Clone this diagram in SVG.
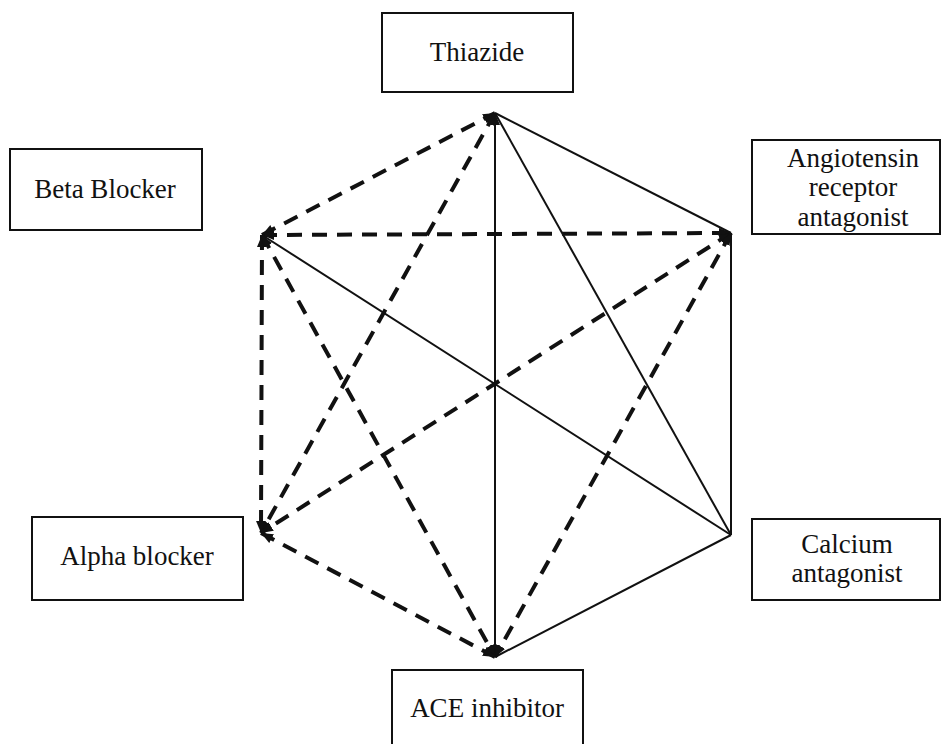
<svg xmlns="http://www.w3.org/2000/svg" width="942" height="744" viewBox="0 0 942 744">
<defs>
<style>
.box{fill:#fff;stroke:#111;stroke-width:2}
.lbl{font-family:'Liberation Serif','Times New Roman','DejaVu Serif',serif;font-size:27px;fill:#111;text-anchor:middle}
.solid{stroke:#111;stroke-width:2;fill:none}
.dash{stroke:#111;stroke-width:4;stroke-dasharray:15 10;fill:none}
</style>
<marker id="ah" viewBox="0 0 12 10" refX="12" refY="5" markerWidth="12" markerHeight="10" markerUnits="userSpaceOnUse" orient="auto-start-reverse">
<path d="M0,0 L12,5 L0,10 z" fill="#111"/>
</marker>
</defs>
<rect width="942" height="744" fill="#fff"/>
<g id="connectors">
<line class="solid" x1="495" y1="113" x2="731" y2="233"/>
<line class="solid" x1="495" y1="113" x2="731" y2="535"/>
<line class="solid" x1="495" y1="113" x2="495" y2="657" marker-start="url(#ah)" marker-end="url(#ah)"/>
<line class="solid" x1="262" y1="235" x2="731" y2="535"/>
<line class="solid" x1="731" y1="233" x2="731" y2="535"/>
<line class="solid" x1="731" y1="535" x2="495" y2="657"/>
<line class="dash" x1="262" y1="235" x2="495" y2="113" marker-start="url(#ah)" marker-end="url(#ah)"/>
<line class="dash" x1="495" y1="113" x2="261" y2="533" marker-start="url(#ah)" marker-end="url(#ah)"/>
<line class="dash" x1="262" y1="235" x2="731" y2="233" marker-start="url(#ah)" marker-end="url(#ah)"/>
<line class="dash" x1="262" y1="235" x2="261" y2="533" marker-start="url(#ah)" marker-end="url(#ah)"/>
<line class="dash" x1="262" y1="235" x2="495" y2="657" marker-start="url(#ah)" marker-end="url(#ah)"/>
<line class="dash" x1="731" y1="233" x2="261" y2="533" marker-start="url(#ah)" marker-end="url(#ah)"/>
<line class="dash" x1="731" y1="233" x2="495" y2="657" marker-start="url(#ah)" marker-end="url(#ah)"/>
<line class="dash" x1="261" y1="533" x2="495" y2="657" marker-start="url(#ah)" marker-end="url(#ah)"/>
</g>
<g id="thiazide">
<rect class="box" x="382" y="13" width="191" height="79"/>
<text class="lbl" x="477" y="61" font-family="Liberation Serif, serif">Thiazide</text>
</g>
<g id="beta-blocker">
<rect class="box" x="10" y="149" width="192" height="81"/>
<text class="lbl" x="105" y="198" font-family="Liberation Serif, serif">Beta Blocker</text>
</g>
<g id="angiotensin">
<rect class="box" x="752" y="140" width="188" height="94"/>
<text class="lbl" x="853" y="167" font-family="Liberation Serif, serif">Angiotensin</text>
<text class="lbl" x="853" y="196" font-family="Liberation Serif, serif">receptor</text>
<text class="lbl" x="853" y="226" font-family="Liberation Serif, serif">antagonist</text>
</g>
<g id="alpha-blocker">
<rect class="box" x="32" y="517" width="211" height="83"/>
<text class="lbl" x="137" y="565" font-family="Liberation Serif, serif">Alpha blocker</text>
</g>
<g id="calcium">
<rect class="box" x="752" y="519" width="188" height="81"/>
<text class="lbl" x="847" y="553" font-family="Liberation Serif, serif">Calcium</text>
<text class="lbl" x="847" y="582" font-family="Liberation Serif, serif">antagonist</text>
</g>
<g id="ace-inhibitor">
<rect class="box" x="392" y="670" width="191" height="80"/>
<text class="lbl" x="487" y="717" font-family="Liberation Serif, serif">ACE inhibitor</text>
</g>
</svg>
